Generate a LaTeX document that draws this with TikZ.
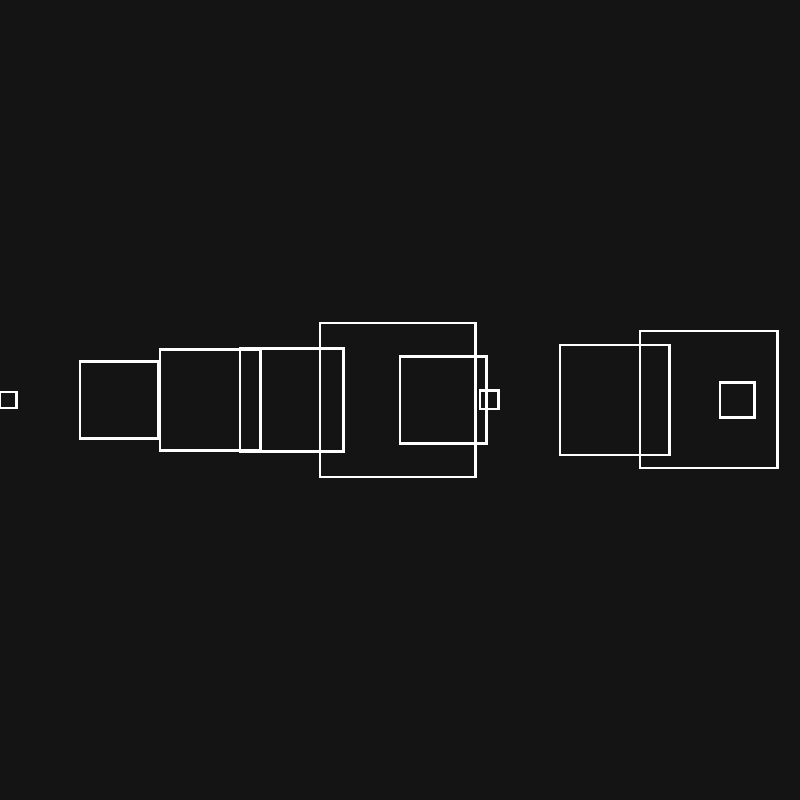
\documentclass[tikz,border=0pt]{standalone}
\definecolor{bgdark}{HTML}{141414}
\begin{document}
\begin{tikzpicture}[x=1pt,y=-1pt,
  box/.style={draw=white, line width=2.3pt, inner sep=0pt, outer sep=0pt}]
\fill [bgdark] (0,0) rectangle (800,800);
\useasboundingbox (0,0) rectangle (800,800);
\node [box, minimum width=16.5pt, minimum height=16.5pt] (tiny) at (8.25,400) {};
\node [box, minimum width=78pt, minimum height=77pt] (first) at (119,400) {};
\node [box, minimum width=100.5pt, minimum height=101pt] (second) at (210.25,400) {};
\node [box, minimum width=103.5pt, minimum height=103pt] (third) at (291.75,400) {};
\node [box, minimum width=155.5pt, minimum height=154pt] (big) at (397.75,400) {};
\node [box, minimum width=86.5pt, minimum height=87pt] (inner) at (443.25,400) {};
\node [box, minimum width=18.5pt, minimum height=18.7pt] (knob) at (489.25,399.7) {};
\node [box, minimum width=109.5pt, minimum height=109.5pt] (left) at (614.75,400) {};
\node [box, minimum width=137.5pt, minimum height=137pt] (right) at (708.75,399.7) {};
\node [box, minimum width=34.5pt, minimum height=35pt] (core) at (737.25,400) {};
\end{tikzpicture}
\end{document}
